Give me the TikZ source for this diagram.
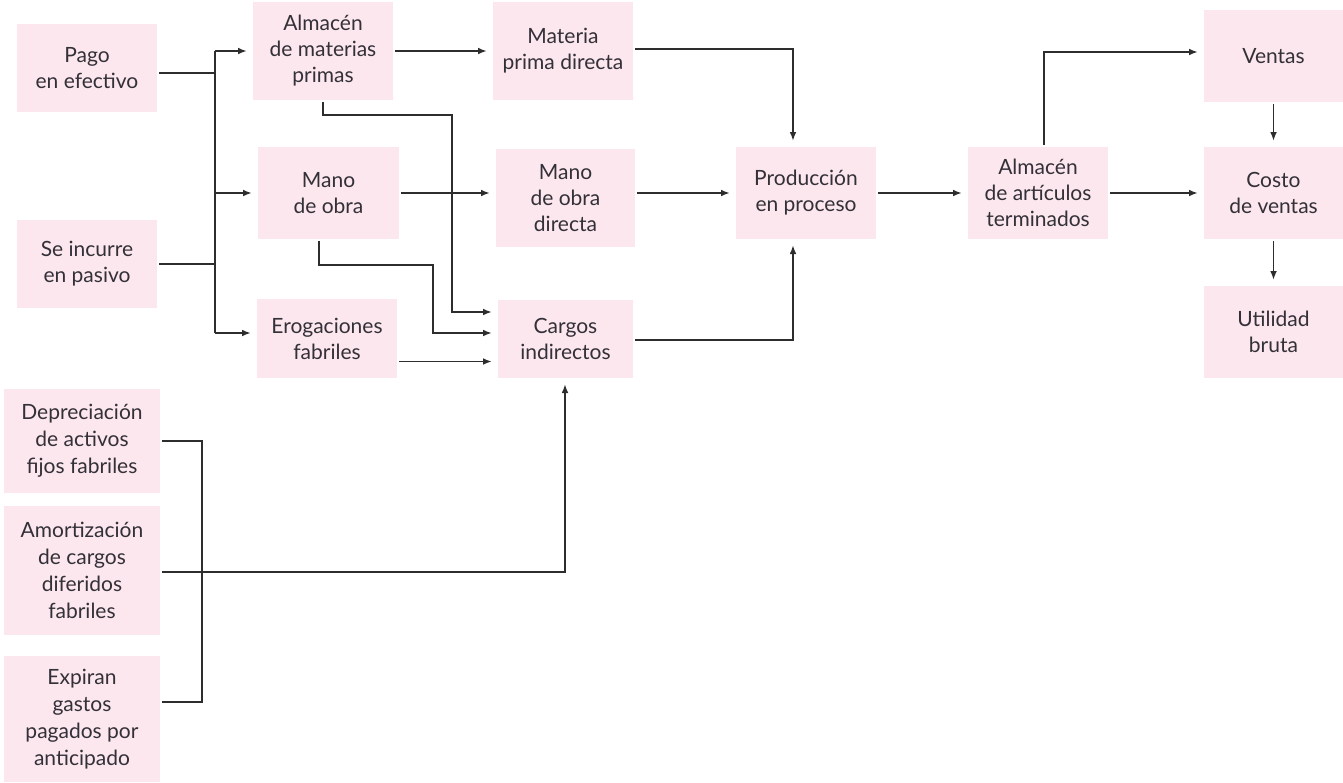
\documentclass[tikz,border=0pt]{standalone}
\usepackage{fontspec}
\setmainfont{Lato}
\usetikzlibrary{arrows.meta,calc}
\definecolor{boxpink}{RGB}{251,231,237}
\definecolor{ink}{RGB}{52,48,56}
\definecolor{linecol}{RGB}{45,45,45}

\begin{document}
\begin{tikzpicture}[x=0.5pt,y=-0.5pt,
  box/.style={fill=boxpink, inner sep=0pt, outer sep=1pt, align=center,
    text=ink, font=\fontsize{10.5}{13}\selectfont},
  tallbox/.style={box, font=\fontsize{10.5}{13.6}\selectfont},
  wire/.style={draw=linecol, line width=0.9pt},
  flow/.style={wire, -{Latex[length=4.5pt,width=3.4pt]}, shorten >=2pt},
]
\useasboundingbox (0,0) rectangle (1343,782);

% ---- boxes ----
\node[box, minimum width=70pt, minimum height=44pt] (pago)   at (87,68)   {Pago\\en efectivo};
\node[box, minimum width=70pt, minimum height=44pt] (pasivo) at (87,264)  {Se incurre\\en pasivo};
\node[box, minimum width=70pt, minimum height=49pt] (almmp)  at (323,51)  {Almacén\\de materias\\primas};
\node[box, minimum width=70.5pt, minimum height=46pt] (mano) at (328.5,193) {Mano\\de obra};
\node[box, minimum width=70pt, minimum height=39.5pt] (erog) at (327,338.5) {Erogaciones\\fabriles};
\node[box, minimum width=70pt, minimum height=49pt] (mpd)    at (563,51)  {Materia\\prima directa};
\node[box, minimum width=69.5pt, minimum height=49pt] (mod)  at (565.5,198) {Mano\\de obra\\directa};
\node[box, minimum width=67.5pt, minimum height=39pt] (cargos) at (565.5,339) {Cargos\\indirectos};
\node[box, minimum width=70pt, minimum height=46pt] (prod)   at (806,193) {Producción\\en proceso};
\node[box, minimum width=70pt, minimum height=46pt] (alat)   at (1038,193) {Almacén\\de artículos\\terminados};
\node[box, minimum width=69.5pt, minimum height=46pt] (ventas) at (1273.5,56) {Ventas};
\node[box, minimum width=69.5pt, minimum height=46pt] (costo)  at (1273.5,193) {Costo\\de ventas};
\node[box, minimum width=69.5pt, minimum height=46pt] (util)   at (1273.5,332) {Utilidad\\bruta};
\node[tallbox, minimum width=78pt, minimum height=52pt] (dep)    at (82,441)  {Depreciación\\de activos\\fijos fabriles};
\node[tallbox, minimum width=78pt, minimum height=64.5pt] (amort) at (82,570.5) {Amortización\\de cargos\\diferidos\\fabriles};
\node[tallbox, minimum width=78pt, minimum height=63pt] (exp)    at (82,719)  {Expiran\\gastos\\pagados por\\anticipado};

% ---- junction points ----
\coordinate (tTop) at (215,51);
\coordinate (tMid) at (215,193);
\coordinate (tBot) at (215,333);
\coordinate (pagoOut) at ($(pago.east)+(0,5)$);
\coordinate (aBend) at (452,115);
\coordinate (aIn) at (452,312);
\coordinate (mX) at (319,265);
\coordinate (mBend) at (433,265);
\coordinate (mIn) at (433,333);
\coordinate (eOut) at ($(erog.east)+(0,23)$);
\coordinate (pTop) at (793,49);
\coordinate (pBot) at (793,340);
\coordinate (vBend) at (1044,52);
\coordinate (dTop) at (202,441);
\coordinate (dBot) at (202,702);
\coordinate (aCorner) at (565,572);

% ---- sources to the first accounts ----
\draw[wire] (pagoOut) -- (pagoOut -| tTop);
\draw[wire] (pasivo.east) -- (pasivo.east -| tTop);
\draw[wire] (tTop) -- (tBot);
\draw[flow] (tTop) -- (almmp.west |- tTop);
\draw[flow] (tMid) -- (mano.west |- tMid);
\draw[flow] (tBot) -- (erog.west |- tBot);

% ---- indirect charges ----
\draw[flow] (almmp.south) |- (aBend) -- (aIn) -- (cargos.west |- aIn);
\draw[flow] (mano.south -| mX) -- (mX) -- (mBend) -- (mIn) -- (cargos.west |- mIn);
\draw[flow] (eOut) -- (eOut -| cargos.west);

% ---- direct costs ----
\draw[flow] (almmp.east) -- (mpd.west);
\draw[flow] (mano.east) -- (mano.east -| mod.west);

% ---- into production ----
\draw[flow] (mpd.east |- pTop) -- (pTop) -- (prod.north -| pTop);
\draw[flow] (prod.west -| mod.east) -- (prod.west);
\draw[flow] (cargos.east |- pBot) -- (pBot) -- (prod.south -| pBot);

% ---- finished goods and sales ----
\draw[flow] (prod.east) -- (alat.west);
\draw[flow] (alat.north -| vBend) -- (vBend) -- (ventas.west |- vBend);
\draw[flow] (alat.east) -- (costo.west);
\draw[flow] (ventas.south) -- (costo.north);
\draw[flow] (costo.south) -- (util.north);

% ---- other factory charges ----
\draw[wire] (dep.east |- dTop) -- (dTop) -- (dBot) -- (exp.east |- dBot);
\draw[flow] (amort.east |- aCorner) -- (aCorner) -- (cargos.south -| aCorner);
\end{tikzpicture}
\end{document}
